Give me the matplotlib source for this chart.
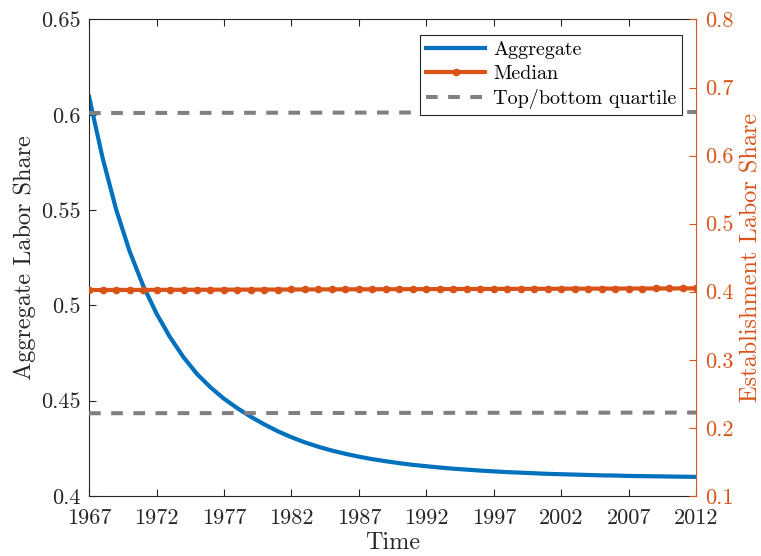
import numpy as np
import matplotlib
matplotlib.use("Agg")
import matplotlib.pyplot as plt

plt.rcParams['font.family'] = 'serif'
plt.rcParams['font.serif'] = ['cmr10', 'DejaVu Serif']
plt.rcParams['mathtext.fontset'] = 'cm'
plt.rcParams['axes.formatter.use_mathtext'] = True

# simulated labor shares, 1967-2012
years = np.arange(1967, 2013)
aggregate = [0.6095, 0.5775, 0.5505, 0.5285, 0.5105, 0.4957, 0.4833, 0.4728,
             0.4640, 0.4570, 0.4510, 0.4460, 0.4415, 0.4375, 0.4339, 0.4308,
             0.4281, 0.4258, 0.4238, 0.4221, 0.4206, 0.4193, 0.4182, 0.4172,
             0.4163, 0.4156, 0.4149, 0.4143, 0.4138, 0.4133, 0.4129, 0.4125,
             0.4122, 0.4119, 0.4116, 0.4114, 0.4112, 0.4110, 0.4108, 0.4107,
             0.4105, 0.4104, 0.4103, 0.4102, 0.4101, 0.4100]
median = [0.4025, 0.4026, 0.4026, 0.4027, 0.4027, 0.4028, 0.4028, 0.4029,
          0.4029, 0.4030, 0.4030, 0.4031, 0.4031, 0.4032, 0.4032, 0.4033,
          0.4034, 0.4034, 0.4035, 0.4035, 0.4036, 0.4036, 0.4037, 0.4037,
          0.4038, 0.4038, 0.4039, 0.4040, 0.4040, 0.4041, 0.4041, 0.4042,
          0.4042, 0.4043, 0.4043, 0.4044, 0.4045, 0.4045, 0.4046, 0.4046,
          0.4047, 0.4047, 0.4048, 0.4048, 0.4049, 0.4050]
top_quartile = [0.6625, 0.6640]
bottom_quartile = [0.2215, 0.2225]
quartile_years = [1967, 2012]

xticks = list(range(1967, 2013, 5))
left_ticks = [0.4, 0.45, 0.5, 0.55, 0.6, 0.65]
left_labels = ['0.4', '0.45', '0.5', '0.55', '0.6', '0.65']
right_ticks = [0.1, 0.2, 0.3, 0.4, 0.5, 0.6, 0.7, 0.8]
right_labels = ['0.1', '0.2', '0.3', '0.4', '0.5', '0.6', '0.7', '0.8']

blue = '#0072BD'
orange = '#D95319'
grey = '#808080'
dark = '#262626'
fs = 16
lfs = 17.5

fig = plt.figure(figsize=(7.61, 5.56), dpi=100)
ax = fig.add_axes([0.117, 0.108, 0.798, 0.857])
ax2 = ax.twinx()

h1, = ax.plot(years, aggregate, color=blue, lw=3, label='Aggregate')
h2, = ax2.plot(years, median, color=orange, lw=3, marker='o', ms=4.5,
               label='Median')
h3, = ax2.plot(quartile_years, top_quartile, color=grey, lw=2.9,
               dashes=(2.9, 2.6), label='Top/bottom quartile')
ax2.plot(quartile_years, bottom_quartile, color=grey, lw=2.9, dashes=(2.9, 2.6))

ax.set_xlim(1967, 2012)
ax.set_ylim(0.4, 0.65)
ax2.set_ylim(0.1, 0.8)

ax.set_xticks(xticks)
ax.set_xticklabels([str(x) for x in xticks], fontsize=fs)
ax.set_yticks(left_ticks)
ax.set_yticklabels(left_labels, fontsize=fs)
ax2.set_yticks(right_ticks)
ax2.set_yticklabels(right_labels, fontsize=fs)

ax.tick_params(axis='x', direction='in', top=True, length=5, width=0.8,
               color=dark, labelcolor=dark, pad=9)
ax.tick_params(axis='y', direction='in', right=False, length=5, width=0.8,
               color=dark, labelcolor=dark, pad=6)
ax2.tick_params(axis='y', direction='in', length=5, width=0.8,
                color=orange, labelcolor=orange, pad=6)

for sp in ['left', 'bottom', 'top']:
    ax.spines[sp].set_color(dark)
    ax.spines[sp].set_linewidth(0.8)
ax2.spines['right'].set_color(orange)
ax2.spines['right'].set_linewidth(0.8)
for sp in ['left', 'bottom', 'top']:
    ax2.spines[sp].set_visible(False)
ax.spines['right'].set_visible(False)

ax.set_xlabel('Time', fontsize=lfs, color=dark, labelpad=3)
ax.set_ylabel('Aggregate Labor Share', fontsize=lfs, color=dark,
              labelpad=4)
ax2.set_ylabel('Establishment Labor Share', fontsize=lfs, color=orange,
               labelpad=5)

leg = ax2.legend(handles=[h1, h2, h3], loc='upper right',
                 bbox_to_anchor=(0.977, 0.968), fontsize=14.5, frameon=True,
                 fancybox=False, framealpha=1, handlelength=2.9,
                 handletextpad=0.4, borderpad=0.3, labelspacing=0.3,
                 borderaxespad=0)
leg.get_frame().set_edgecolor(dark)
leg.get_frame().set_linewidth(0.8)

fig.savefig('out.png', dpi=100)
